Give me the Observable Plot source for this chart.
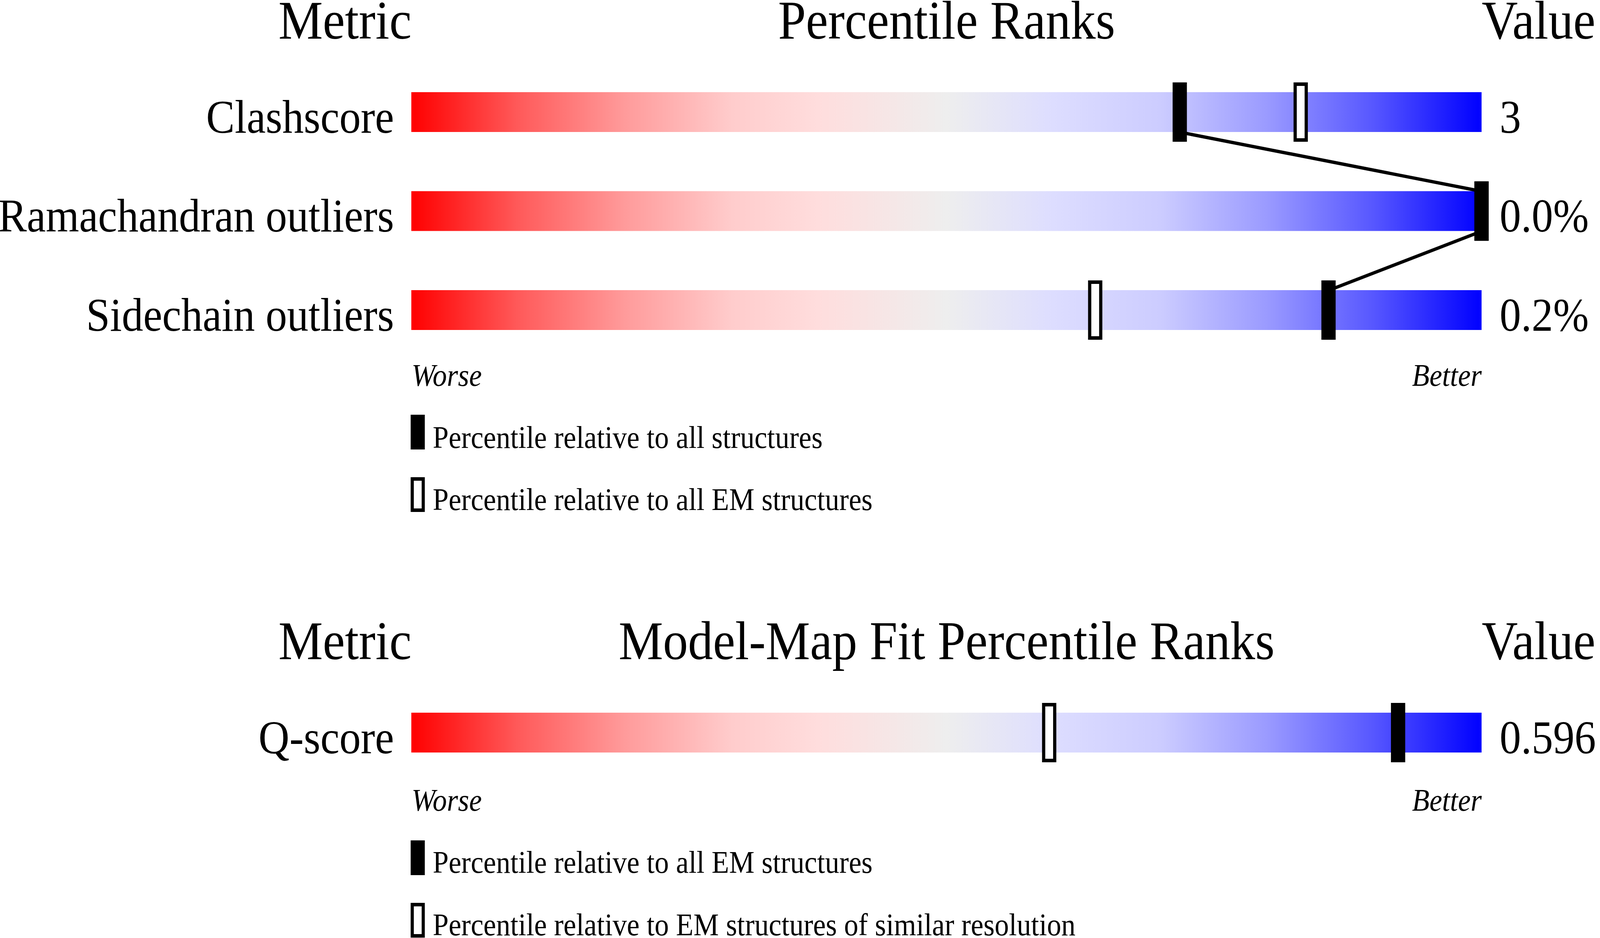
<!DOCTYPE html>
<html>
<head>
<meta charset="utf-8">
<script src="https://cdn.jsdelivr.net/npm/d3@7"></script>
<script src="https://cdn.jsdelivr.net/npm/@observablehq/plot@0.6"></script>
<style>
  html, body { margin: 0; padding: 0; background: #fff; overflow: hidden; }
  #stage { position: relative; width: 4485px; height: 2402px; transform-origin: 0 0;
           font-family: "Liberation Serif", "Times New Roman", serif; color: #000; background: #fff; }
  .abs { position: absolute; display: block; }
  .legtext { position: absolute; font-size: 80px; line-height: 80px; white-space: nowrap; }
</style>
</head>
<body>
<div id="stage"></div>
<script>
// ---------- data ----------
const metrics1 = ["Clashscore", "Ramachandran outliers", "Sidechain outliers"];
const values1 = ["3", "0.0%", "0.2%"];
const pctAll1 = [71.8, 100, 85.7];      // filled marker: relative to all structures
const pctEM1 = [83.1, 100, 63.9];       // open marker: relative to all EM structures
const headers1 = ["Metric", "Percentile Ranks", "Value"];
const legend1 = ["Percentile relative to all structures", "Percentile relative to all EM structures"];

const metrics2 = ["Q-score"];
const values2 = ["0.596"];
const pctEM2 = [92.2];                  // filled marker: relative to all EM structures
const pctRes2 = [59.6];                 // open marker: EM structures of similar resolution
const headers2 = ["Metric", "Model-Map Fit Percentile Ranks", "Value"];
const legend2 = ["Percentile relative to all EM structures", "Percentile relative to EM structures of similar resolution"];

const footLabels = ["Worse", "Better"];
const percentileDomain = [0, 100];
const gradientOffsets = [0, 0.1, 0.2, 0.3, 0.38, 0.5, 0.6, 0.7, 0.8, 0.9, 1];
const gradientColors = ["#ff0000", "#ff5a5a", "#ff9b9b", "#ffcccc", "#ffdddd", "#eeeeee",
                        "#ddddff", "#ccccff", "#9a9aff", "#5656ff", "#0000ff"];

// ---------- layout ----------
const FONT = "Liberation Serif";
const DESIGN_W = 4485, DESIGN_H = 2402;
const STEP = 253.5, BAR_H = 102, MARK_H = 152, MARK_W = 40, MARK_SW = 9;
const stage = document.getElementById("stage");
// the design is laid out at 4485 px wide; fit it to the actual window size
const sx = (window.innerWidth || DESIGN_W) / DESIGN_W;
const sy = (window.innerHeight || DESIGN_H) / DESIGN_H;
stage.style.transform = `scale(${sx}, ${sy})`;

function panel({metrics, values, filled, open, headers, gradId, top, height, marginTop, headerDy, footDy}) {
  const n = metrics.length;
  const idx = d3.range(n);
  const marginBottom = height - marginTop - STEP * n;
  const hb = (BAR_H / 2) / STEP;
  const barInset = (STEP - BAR_H) / 2;
  const markInset = (STEP - (MARK_H - MARK_SW)) / 2;
  const markHalfW = (MARK_W - MARK_SW) / 2;
  const markerOpts = (arr, fill) => ({
    x1: i => arr[i], x2: i => arr[i], y1: i => i - 0.5, y2: i => i + 0.5,
    insetLeft: -markHalfW, insetRight: -markHalfW, insetTop: markInset, insetBottom: markInset,
    fill, stroke: "black", strokeWidth: MARK_SW
  });
  const svg = Plot.plot({
    width: DESIGN_W, height,
    marginLeft: 1153, marginRight: 332, marginTop, marginBottom,
    x: {domain: percentileDomain, axis: null},
    y: {domain: [-0.5, n - 0.5], reverse: true, axis: null},
    style: {fontFamily: FONT, background: "white", overflow: "visible", color: "black"},
    marks: [
      Plot.rect(idx, {x1: () => percentileDomain[0], x2: () => percentileDomain[1],
        y1: i => i - 0.5, y2: i => i + 0.5, insetTop: barInset, insetBottom: barInset,
        fill: `url(#${gradId})`}),
      Plot.link(idx.slice(0, -1), {x1: i => filled[i], y1: i => i + hb,
        x2: i => filled[i + 1], y2: i => i + 1 - hb, stroke: "black", strokeWidth: 8.5}),
      Plot.rect(idx, markerOpts(open, "white")),
      Plot.rect(idx, markerOpts(filled, "black")),
      Plot.text(metrics, {y: (d, i) => i, text: d => d, frameAnchor: "left", textAnchor: "end",
        lineAnchor: "bottom", dx: -49, dy: 52, fontSize: 120, fontFamily: FONT}),
      Plot.text(values, {y: (d, i) => i, text: d => d, frameAnchor: "right", textAnchor: "start",
        lineAnchor: "bottom", dx: 50, dy: 52, fontSize: 120, fontFamily: FONT}),
      Plot.text([headers[0]], {text: d => d, frameAnchor: "top-left", textAnchor: "end",
        lineAnchor: "bottom", dy: headerDy, fontSize: 140, fontFamily: FONT}),
      Plot.text([headers[1]], {text: d => d, frameAnchor: "top", textAnchor: "middle",
        lineAnchor: "bottom", dy: headerDy, fontSize: 140, fontFamily: FONT}),
      Plot.text([headers[2]], {text: d => d, frameAnchor: "top-right", textAnchor: "start",
        lineAnchor: "bottom", dy: headerDy, fontSize: 140, fontFamily: FONT}),
      Plot.text([footLabels[0]], {text: d => d, frameAnchor: "bottom-left", textAnchor: "start",
        lineAnchor: "bottom", dy: footDy, fontSize: 80, fontStyle: "italic", fontFamily: FONT}),
      Plot.text([footLabels[1]], {text: d => d, frameAnchor: "bottom-right", textAnchor: "end",
        lineAnchor: "bottom", dy: footDy, fontSize: 80, fontStyle: "italic", fontFamily: FONT})
    ]
  });
  const lg = d3.select(svg).insert("defs", ":first-child")
    .append("linearGradient").attr("id", gradId)
    .attr("x1", "0").attr("x2", "1").attr("y1", "0").attr("y2", "0");
  lg.selectAll("stop").data(gradientOffsets).join("stop")
    .attr("offset", d => d).attr("stop-color", (d, i) => gradientColors[i]);
  svg.classList.add("abs");
  svg.style.left = "0px";
  svg.style.top = top + "px";
  svg.style.maxWidth = "none";
  stage.appendChild(svg);
}

function legendItem(label, filled, rectTop, textTop) {
  const ns = "http://www.w3.org/2000/svg";
  const s = document.createElementNS(ns, "svg");
  s.setAttribute("width", 40); s.setAttribute("height", 89);
  s.setAttribute("class", "abs");
  s.style.left = "1151px"; s.style.top = rectTop + "px";
  const r = document.createElementNS(ns, "rect");
  r.setAttribute("x", 4.5); r.setAttribute("y", 4.5);
  r.setAttribute("width", 31); r.setAttribute("height", 80);
  r.setAttribute("fill", filled ? "black" : "white");
  r.setAttribute("stroke", "black"); r.setAttribute("stroke-width", 9);
  s.appendChild(r);
  stage.appendChild(s);
  const t = document.createElement("div");
  t.className = "legtext";
  t.style.left = "1213px"; t.style.top = textTop + "px";
  t.textContent = label;
  stage.appendChild(t);
}

panel({metrics: metrics1, values: values1, filled: pctAll1, open: pctEM1, headers: headers1,
  gradId: "grad1", top: 0, height: 1010, marginTop: 160.25, headerDy: -62, footDy: 66.25});
legendItem(legend1[0], true, 1062, 1080);
legendItem(legend1[1], false, 1222, 1239);

panel({metrics: metrics2, values: values2, filled: pctEM2, open: pctRes2, headers: headers2,
  gradId: "grad2", top: 1400, height: 700, marginTop: 349.25, headerDy: -62.25, footDy: 72.25});
legendItem(legend2[0], true, 2152, 2168);
legendItem(legend2[1], false, 2312, 2328);
</script>
</body>
</html>
